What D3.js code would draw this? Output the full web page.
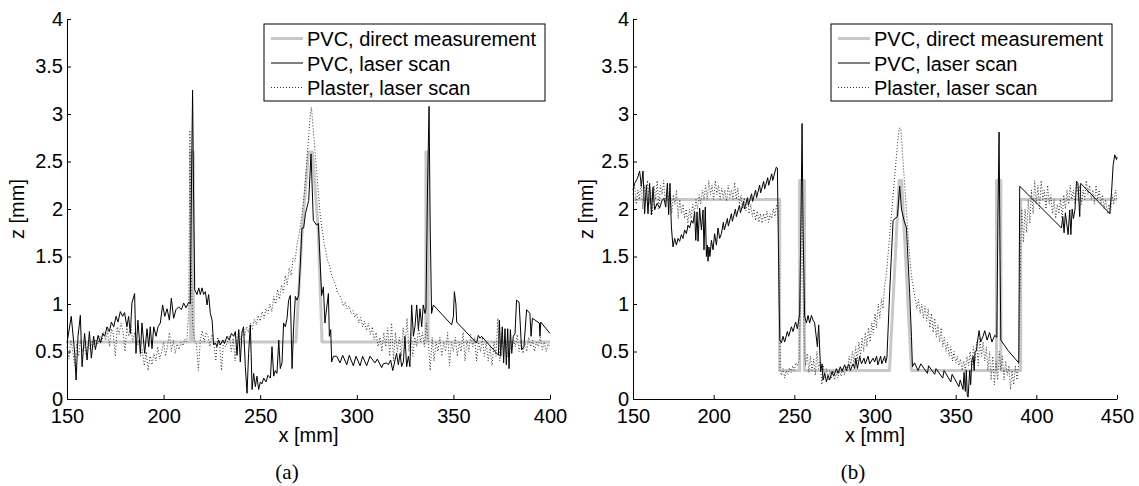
<!DOCTYPE html>
<html>
<head>
<meta charset="utf-8">
<title>Profile comparison</title>
<script src="https://d3js.org/d3.v7.min.js"></script>
<style>
  body { margin: 0; background: #fff; }
  svg { display: block; }
  text { font-family: "Liberation Sans", Arial, Helvetica, sans-serif; fill: #000; }
  .caption { font-family: "Liberation Serif", "Times New Roman", serif; }
</style>
</head>
<body>
<div id="vis"></div>
<script>
// legend / series names
const seriesNames = ["PVC, direct measurement", "PVC, laser scan", "Plaster, laser scan"];
const yTicks = [0, 0.5, 1, 1.5, 2, 2.5, 3, 3.5, 4];
const xTicksA = [150, 200, 250, 300, 350, 400];
const xTicksB = [150, 200, 250, 300, 350, 400, 450];

// panel (a): [x mm, z mm]
const directA = [[150,0.6],[214,0.6],[214,2.6],[215.4,2.6],[215.4,0.6],[268.5,0.6],[271.8,1.8],[275,2.6],[277,2.6],[280,1.8],[282,0.6],
  [335.8,0.6],[335.8,2.6],[336.9,2.6],[336.9,0.6],[400,0.6]];

const pvcScanA = [[150,0.59],[152.2,0.87],[154,0.48],[154.7,0.20],[155.7,0.66],[156.9,0.88],[157.8,0.34],[159.1,0.69],[160.4,0.41],
  [161.6,0.71],[162.6,0.43],[163.8,0.66],[164.7,0.52],[166.1,0.67],[167.3,0.59],[168.5,0.69],[169.5,0.66],[170.7,0.76],[171.9,0.71],
  [173,0.81],[174.2,0.76],[175.4,0.87],[176.4,0.81],[177.6,0.92],[178.8,0.87],[179.8,0.91],[181,0.76],[181.9,0.87],[182.8,0.69],
  [183.6,1.01],[185,1.11],[185.7,0.48],[186.7,0.83],[188,0.48],[188.8,0.80],[190.2,0.48],[191.4,0.74],[192.3,0.55],[193.1,0.76],
  [194,0.53],[194.9,0.76],[196.1,0.66],[197.1,0.76],[198.3,0.80],[199.5,0.99],[200.6,0.87],[201.8,0.95],[203,0.83],[204,1.06],
  [205.2,0.85],[206.4,0.94],[207.8,0.97],[209.2,0.94],[210.4,1.01],[211.6,0.96],[213,1.02],[213.8,1.0],[214.5,2.4],[215,3.25],
  [215.5,2.2],[216.1,1.15],[217.3,1.10],[218.2,1.17],[219,1.10],[219.9,1.17],[220.7,1.10],[221.6,1.13],[222.5,0.99],[223.3,1.10],
  [224.2,0.90],[225.1,0.83],[225.9,0.57],[226.8,0.59],[227.6,0.55],[228.5,0.62],[229.4,0.57],[230.6,0.62],[231.6,0.59],[232.8,0.66],
  [234,0.62],[235.1,0.69],[236.3,0.66],[237.1,0.71],[238,0.46],[238.9,0.73],[239.7,0.39],[240.6,0.71],[241.4,0.76],[242.3,0.34],
  [243.2,0.06],[244,0.48],[244.9,0.78],[245.8,0.10],[246.6,0.27],[247.5,0.13],[248.3,0.24],[249.2,0.10],[250.1,0.18],[250.9,0.16],
  [251.8,0.22],[253,0.18],[254,0.25],[255.3,0.22],[256.1,0.55],[257,0.24],[257.8,0.30],[258.7,0.27],[259.6,0.62],[260.4,0.32],
  [261.3,0.38],[262.1,0.80],[263,0.76],[263.9,0.85],[264.7,1.04],[265.6,1.09],[266.5,0.32],[267.3,0.76],[268.2,1.08],[269,1.04],
  [269.9,1.09],[270.8,1.43],[271.6,1.80],[272.5,1.80],[273.4,1.95],[275.1,2.09],[276.3,2.58],[277.5,1.88],[279.2,1.83],[280.1,1.85],
  [281.8,1.09],[282.7,1.18],[283.5,0.80],[285.3,1.11],[285.8,0.66],[286.5,0.73],[287,0.39],[287.9,0.45],[289.6,0.45],[291.3,0.38],
  [292.7,0.46],[294.8,0.36],[296.1,0.46],[298.2,0.35],[299.6,0.45],[301.7,0.35],[303,0.45],[305.1,0.35],[306.8,0.45],[309.4,0.38],
  [310.6,0.42],[312.9,0.33],[313.7,0.37],[315.5,0.38],[316.3,0.36],[317.5,0.41],[318.6,0.30],[319.8,0.41],[320.6,0.48],[321.5,0.36],
  [322.4,0.48],[323.2,0.34],[324.1,0.39],[324.9,0.66],[325.8,0.34],[326.7,0.45],[327.5,0.34],[328.4,0.99],[329.3,0.66],[330.1,0.76],
  [331,0.99],[331.9,0.73],[332.7,0.95],[333.6,0.76],[334.4,0.99],[335.3,0.90],[335.8,0.95],[336.6,2.2],[337.4,3.08],[338,1.8],
  [338.7,0.90],[339.6,0.99],[349.1,0.78],[350,0.87],[350.5,1.13],[351.3,1.0],[351.7,0.81],[362,0.59],[362.9,0.67],[363.8,0.64],
  [364.6,0.66],[373.3,0.46],[373.8,0.83],[374.5,0.45],[375.3,0.76],[376,0.38],[376.7,0.74],[377.4,0.36],[378.1,0.74],[378.8,0.32],
  [379.5,0.73],[380.2,0.48],[381,0.66],[381.9,0.69],[382.7,1.04],[384,1.02],[385.3,0.52],[386.5,0.55],[387.9,0.94],[389.6,0.90],
  [390.2,0.66],[390.9,0.85],[394.5,0.80],[394.8,0.66],[395.2,0.81],[400,0.69]];

const plasterA = [[150,0.55],[151,0.42],[152,0.62],[153,0.50],[154,0.35],[155,0.58],[156,0.45],[157,0.62],[158,0.50],[159,0.57],
  [160,0.45],[161,0.60],[162,0.52],[163,0.62],[164,0.55],[165,0.63],[166,0.58],[167,0.66],[168,0.60],[169,0.70],[170,0.62],[171,0.72],
  [172,0.55],[173,0.74],[174,0.68],[175,0.45],[176,0.76],[177,0.68],[178,0.80],[179,0.72],[180,0.50],[181,0.75],[182,0.66],[183,0.78],
  [184,0.60],[185,0.70],[186,0.55],[187,0.62],[188,0.45],[189,0.52],[190,0.35],[191,0.50],[192,0.30],[193,0.45],[194,0.36],[195,0.48],
  [196,0.40],[197,0.55],[198,0.42],[199,0.50],[200,0.60],[201,0.45],[202,0.55],[203,0.70],[204,0.50],[205,0.62],[206,0.48],[207,0.58],
  [208,0.52],[209,0.60],[210,0.56],[211,0.63],[212,0.60],[213,0.9],[213.6,2.83],[214.2,1.5],[215,0.8],[216,0.62],[217,0.58],[218,0.30],
  [219,0.62],[220,0.72],[221,0.60],[222,0.70],[223,0.66],[224,0.55],[225,0.68],[226,0.60],[227,0.40],[228,0.65],[229,0.58],[230,0.30],
  [231,0.62],[232,0.55],[233,0.60],[234,0.66],[235,0.50],[236,0.64],[237,0.40],[238,0.65],[239,0.70],[240,0.62],[241,0.72],[242,0.66],
  [243,0.76],[244,0.70],[245,0.80],[246,0.74],[247,0.84],[248,0.78],[249,0.88],[250,0.82],[251,0.92],[252,0.85],[253,0.95],[254,0.90],
  [255,1.00],[256,0.92],[257,1.08],[258,1.00],[259,1.15],[260,1.05],[261,1.20],[262,1.12],[263,1.30],[264,1.20],[265,1.38],[266,1.30],
  [267,1.48],[268,1.45],[269,1.62],[270,1.72],[271,1.85],[272,2.00],[273,2.20],[274,2.45],[275,2.75],[276,3.00],[276.5,3.07],[277,2.95],
  [278,2.70],[279,2.45],[280,2.20],[281,1.95],[282,1.80],[283,1.65],[284,1.55],[285,1.45],[286,1.40],[287,1.30],[288,1.25],[289,1.20],
  [290,1.12],[291,1.10],[292,1.05],[293,0.98],[294,1.02],[295,0.95],[296,0.98],[297,0.90],[298,0.93],[299,0.86],[300,0.90],[301,0.80],
  [302,0.86],[303,0.76],[304,0.82],[305,0.72],[306,0.80],[307,0.68],[308,0.76],[309,0.62],[310,0.70],[311,0.55],[312,0.65],[313,0.50],
  [314,0.70],[315,0.55],[316,0.75],[317,0.45],[318,0.80],[319,0.40],[320,0.70],[321,0.50],[322,0.65],[323,0.45],[324,0.75],[325,0.55],
  [326,0.85],[327,0.50],[328,0.70],[329,0.45],[330,0.65],[331,0.55],[332,0.75],[333,0.60],[334,0.70],[335,0.55],[336,0.80],[337,0.60],
  [338,0.30],[339,0.65],[340,0.40],[341,0.60],[342,0.50],[343,0.65],[344,0.45],[345,0.60],[346,0.50],[347,0.70],[348,0.35],[349,0.60],
  [350,0.50],[351,0.65],[352,0.45],[353,0.60],[354,0.50],[355,0.70],[356,0.40],[357,0.62],[358,0.50],[359,0.68],[360,0.55],[361,0.65],
  [362,0.40],[363,0.60],[364,0.50],[365,0.65],[366,0.45],[367,0.60],[368,0.40],[369,0.55],[370,0.35],[371,0.60],[372,0.45],[373,0.85],
  [374,0.40],[375,0.70],[376,0.50],[377,0.65],[378,0.45],[379,0.60],[380,0.50],[381,0.62],[382,0.55],[383,0.68],[384,0.50],[385,0.62],
  [386,0.48],[387,0.60],[388,0.50],[389,0.65],[390,0.55],[391,0.62],[392,0.50],[393,0.60],[394,0.55],[395,0.65],[396,0.52],[397,0.60],
  [398,0.50],[399,0.58],[400,0.55]];

// panel (b)
const directB = [[150,2.1],[240.9,2.1],[240.9,0.3],[253.3,0.3],[253.3,2.3],[256.3,2.3],[256.3,0.3],[309,0.3],[315,2.3],[316.5,2.3],
  [322.6,0.3],[375.3,0.3],[375.3,2.3],[378,2.3],[378,0.3],[390.3,0.3],[390.3,2.1],[450,2.1]];

const pvcScanB = [[150,2.2],[151,2.27],[152.7,2.32],[154.1,2.40],[155.2,2.24],[156.2,2.40],[157.2,1.95],[158.3,2.25],[159.3,1.95],
  [160.3,2.27],[161.4,1.94],[162.4,2.23],[163.4,1.99],[164.9,2.06],[166.5,2.01],[168,2.09],[169.2,2.11],[170.3,2.02],[171.3,2.27],
  [172.1,1.94],[172.9,2.27],[173.8,1.81],[174.8,1.60],[175.8,1.69],[176.9,1.62],[177.9,1.69],[178.9,1.66],[180,1.73],[181,1.69],
  [182,1.78],[183.1,1.74],[184.1,1.83],[185.1,1.80],[186.2,1.88],[187.2,1.85],[188.2,1.97],[188.9,1.67],[189.7,1.97],[190.3,1.66],
  [191.3,2.01],[192.4,1.78],[193.4,1.99],[194,1.57],[194.8,2.02],[195.5,1.50],[196.1,1.62],[196.5,1.45],[197.1,1.60],[197.7,1.50],
  [198.6,1.67],[199.6,1.57],[200.6,1.74],[201.7,1.62],[202.7,1.80],[203.7,1.69],[204.8,1.74],[206,1.86],[206.6,1.78],[208.5,1.90],
  [209.1,1.82],[211,1.95],[211.6,1.87],[213.5,2.00],[214.1,1.92],[216,2.04],[216.6,1.96],[218.5,2.08],[219.1,2.00],[221,2.12],
  [221.6,2.04],[223.5,2.16],[224.1,2.08],[226,2.20],[226.6,2.12],[228.5,2.25],[229.1,2.17],[231,2.29],[231.6,2.21],[233.5,2.33],
  [234.1,2.25],[236,2.37],[236.6,2.30],[238.8,2.44],[239.5,2.43],[240.6,1.0],[241,0.62],[242,0.59],[243,0.66],[244,0.60],
  [245.7,0.71],[246.5,0.66],[248.2,0.76],[249.2,0.71],[250.8,0.81],[251.9,0.74],[253.3,0.90],[254.2,2.0],[254.8,2.9],[255.4,1.8],
  [256.4,0.87],[257.5,0.80],[258.5,0.88],[259.5,0.80],[260.6,0.88],[261.6,0.83],[262.6,0.80],[264.3,0.55],[265.1,0.78],[266.3,0.29],
  [267.2,0.37],[267.8,0.20],[268.8,0.27],[269.9,0.18],[270.9,0.25],[271.9,0.20],[273.4,0.29],[274.4,0.24],[276.1,0.32],[277.1,0.27],
  [278.5,0.34],[279.6,0.29],[281.2,0.36],[282.3,0.30],[283.7,0.37],[284.7,0.30],[286.4,0.37],[287.4,0.32],[288.1,0.43],[289.1,0.32],
  [290.5,0.45],[291.6,0.37],[293.2,0.43],[294,0.37],[295.7,0.45],[296.7,0.37],[298.8,0.43],[299.8,0.39],[301,0.45],[301.8,0.36],
  [303.5,0.45],[304.2,0.37],[306,0.45],[306.6,0.38],[307.4,0.44],[309.1,1.13],[311.2,1.88],[313.9,1.92],[315.3,2.24],[316.4,2.0],
  [318,1.88],[319.5,1.80],[321.5,1.11],[322.6,0.66],[323.2,0.34],[324.5,0.38],[326.7,0.30],[328.4,0.37],[332.5,0.27],[333.2,0.35],
  [337,0.26],[337.8,0.32],[342,0.22],[342.8,0.30],[347,0.18],[347.8,0.26],[352,0.13],[352.8,0.20],[354.6,0.10],[355.2,0.28],
  [356,0.08],[356.6,0.30],[357.2,0.04],[357.7,0.02],[358.7,0.30],[359.3,0.15],[360,0.40],[360.8,0.45],[361.5,0.30],[362,0.50],
  [362.9,0.51],[363.5,0.60],[364.5,0.72],[365.5,0.60],[367,0.66],[368,0.72],[369.5,0.62],[371,0.70],[372.5,0.60],[374.2,0.67],
  [375.5,0.65],[376.2,1.9],[376.9,2.81],[377.5,1.5],[378,0.62],[382.5,0.51],[389.1,0.38],[389.7,2.24],[415.6,1.80],[416.4,1.92],
  [417.2,1.75],[418,1.96],[419.7,1.73],[420.7,1.99],[421.4,1.73],[422.2,2.00],[423,1.90],[424,2.00],[424.9,2.29],[425.8,2.27],
  [426.9,1.92],[427.5,2.27],[444.5,1.97],[445.5,1.95],[446.6,2.17],[447.6,2.46],[448.6,2.57],[449.7,2.52],[450,2.55]];

const plasterB = [[150,2.15],[151,2.25],[152,2.05],[153,2.2],[154,2.1],[155,2.3],[156,2.0],[157,2.25],[158,2.1],[159,2.3],[160,2.05],
  [161,2.2],[162,1.95],[163,2.25],[164,2.1],[165,2.3],[166,2.0],[167,2.25],[168,2.15],[169,2.3],[170,2.05],[171,2.2],[172,2.1],
  [173,2.25],[174,1.95],[175,2.15],[176,2.05],[177,2.2],[178,1.9],[179,2.1],[180,1.95],[181,2.05],[182,1.9],[183,2.0],[184,1.85],
  [185,2.0],[186,1.9],[187,2.05],[188,1.95],[189,2.1],[190,2.0],[191,2.15],[192,2.05],[193,2.2],[194,2.1],[195,2.25],[196,2.1],
  [197,2.3],[198,2.15],[199,2.25],[200,2.1],[201,2.3],[202,2.15],[203,2.25],[204,2.1],[205,2.22],[206,2.12],[207,2.2],[208,2.08],
  [209,2.25],[210,2.12],[211,2.2],[212,2.1],[213,2.28],[214,2.1],[215,2.22],[216,2.05],[217,2.15],[218,2.0],[219,2.12],[220,1.98],
  [221,2.1],[222,1.95],[223,2.05],[224,1.92],[225,2.0],[226,1.88],[227,1.98],[228,1.86],[229,1.95],[230,1.85],[231,1.95],[232,1.88],
  [233,1.98],[234,1.86],[235,1.95],[236,1.9],[237,2.0],[238,1.92],[239,2.05],[240,1.95],[240.8,1.0],[241.2,0.3],[242,0.25],[243,0.32],
  [244,0.22],[245,0.30],[246,0.26],[247,0.33],[248,0.28],[249,0.35],[250,0.30],[251,0.38],[252,0.35],[253,0.42],[254,1.2],[254.7,2.3],
  [255.5,1.0],[256.5,0.45],[257,0.35],[258,0.48],[259,0.28],[260,0.45],[261,0.30],[262,0.42],[263,0.25],[264,0.50],[265,0.32],
  [266,0.40],[267,0.15],[268,0.35],[269,0.22],[270,0.32],[271,0.2],[272,0.3],[273,0.22],[274,0.3],[275,0.2],[276,0.28],[277,0.22],
  [278,0.3],[279,0.24],[280,0.33],[281,0.25],[282,0.35],[283,0.3],[284,0.45],[285,0.35],[286,0.5],[287,0.38],[288,0.55],[289,0.4],
  [290,0.6],[291,0.45],[292,0.65],[293,0.5],[294,0.7],[295,0.55],[296,0.75],[297,0.6],[298,0.8],[299,0.7],[300,0.9],[301,0.75],
  [302,1.0],[303,0.85],[304,1.05],[305,0.95],[306,1.2],[307,1.3],[308,1.5],[309,1.7],[310,1.9],[311,2.1],[312,2.3],[313,2.5],
  [314,2.7],[315,2.85],[316,2.85],[317,2.6],[318,2.35],[319,2.1],[320,1.85],[321,1.6],[322,1.4],[323,1.25],[324,1.15],[325,1.05],
  [326,0.95],[327,1.05],[328,0.9],[329,1.0],[330,0.85],[331,0.98],[332,0.82],[333,0.95],[334,0.75],[335,0.9],[336,0.7],[337,0.85],
  [338,0.65],[339,0.78],[340,0.6],[341,0.75],[342,0.55],[343,0.65],[344,0.5],[345,0.6],[346,0.45],[347,0.55],[348,0.4],[349,0.5],
  [350,0.38],[351,0.45],[352,0.35],[353,0.42],[354,0.3],[355,0.4],[356,0.3],[357,0.45],[358,0.35],[359,0.5],[360,0.3],[361,0.55],
  [362,0.4],[363,0.6],[364,0.35],[365,0.65],[366,0.45],[367,0.6],[368,0.4],[369,0.55],[370,0.3],[371,0.5],[372,0.2],[373,0.45],
  [374,0.15],[375,0.4],[376,0.2],[377,0.5],[378,0.3],[379,0.45],[380,0.2],[381,0.4],[382,0.25],[383,0.35],[384,0.1],[385,0.3],
  [386,0.15],[387,0.35],[388,0.2],[389,0.35],[390,1.2],[390.5,1.8],[391,2.0],[392,1.65],[393,2.0],[394,1.75],[395,2.1],[396,1.85],
  [397,2.2],[398,1.95],[399,2.3],[400,2.05],[401,2.25],[402,2.0],[403,2.3],[404,2.1],[405,2.2],[406,2.0],[407,2.25],[408,2.05],
  [409,2.15],[410,1.95],[411,2.1],[412,1.9],[413,2.05],[414,1.95],[415,2.1],[416,1.9],[417,2.15],[418,2.0],[419,2.2],[420,2.05],
  [421,2.25],[422,2.1],[423,2.2],[424,2.05],[425,2.3],[426,2.1],[427,2.25],[428,2.05],[429,2.2],[430,2.1],[431,2.3],[432,2.15],
  [433,2.25],[434,2.1],[435,2.2],[436,2.05],[437,2.25],[438,2.1],[439,2.2],[440,2.05],[441,2.15],[442,2.0],[443,2.1],[444,1.95],
  [445,2.05],[446,1.95],[447,2.15],[448,2.05],[449,2.2],[450,2.1]];

let w = 1139, h = 486;
let svg = d3.select("#vis").append("svg")
            .attr("width", w)
            .attr("height", h);

// line styles for the 3 series
const styles = [
  {stroke: "#c8c8c8", width: 3, dash: null},
  {stroke: "#000", width: 1, dash: null},
  {stroke: "#333", width: 1, dash: "1,2"}
];

function drawPanel(p) {
  let x = d3.scaleLinear().domain([150, p.xmax]).range([p.left, p.right]);
  let y = d3.scaleLinear().domain([0, 4]).range([399, 19]);
  let g = svg.append("g");

  let line = d3.line()
    .x(function(d) { return x(d[0]); })
    .y(function(d) { return y(d[1]); });

  p.series.forEach(function(s, i) {
    g.append("path")
      .datum(s)
      .attr("d", line)
      .attr("fill", "none")
      .attr("stroke", styles[i].stroke)
      .attr("stroke-width", styles[i].width)
      .attr("stroke-dasharray", styles[i].dash)
      .attr("stroke-linejoin", "round");
  });

  // axes, ticks point inward like matlab
  let xAxis = g.append("g")
    .attr("transform", "translate(0,399)")
    .call(d3.axisBottom(x).tickValues(p.xticks).tickSizeInner(-4).tickSizeOuter(0).tickPadding(10).tickFormat(d3.format("d")));
  let yAxis = g.append("g")
    .attr("transform", "translate(" + p.left + ",0)")
    .call(d3.axisLeft(y).tickValues(yTicks).tickSizeInner(-4).tickSizeOuter(0).tickPadding(4).tickFormat(function(d) { return String(d); }));
  [xAxis, yAxis].forEach(function(a) {
    a.selectAll("text").style("font-size", "20px").attr("font-family", null);
    a.selectAll("path, line").attr("stroke", "#000");
  });

  g.append("text").attr("x", (p.left + p.right) / 2).attr("y", 442)
    .attr("text-anchor", "middle").style("font-size", "20px").text("x [mm]");
  g.append("text").attr("transform", "translate(" + p.zlab + ",209) rotate(-90)")
    .attr("text-anchor", "middle").style("font-size", "20px").text("z [mm]");
  g.append("text").attr("class", "caption").attr("x", p.cap).attr("y", 479)
    .attr("text-anchor", "middle").style("font-size", "21px").text(p.label);

  // legend
  let lg = g.append("g").attr("transform", "translate(" + p.legX + ",24)");
  lg.append("rect").attr("width", 281).attr("height", 77)
    .attr("fill", "#fff").attr("stroke", "#000").attr("stroke-width", 1);
  seriesNames.forEach(function(name, i) {
    let ry = 14.5 + i * 24.5;
    lg.append("line").attr("x1", 7).attr("x2", 39).attr("y1", ry).attr("y2", ry)
      .attr("stroke", styles[i].stroke).attr("stroke-width", styles[i].width)
      .attr("stroke-dasharray", styles[i].dash);
    lg.append("text").attr("x", 43).attr("y", ry + 7.5).style("font-size", "20px").text(name);
  });
}

drawPanel({left: 67, right: 550, xmax: 400, xticks: xTicksA, series: [directA, pvcScanA, plasterA],
           legX: 264, zlab: 24, cap: 287, label: "(a)"});
drawPanel({left: 633, right: 1117, xmax: 450, xticks: xTicksB, series: [directB, pvcScanB, plasterB],
           legX: 831, zlab: 593, cap: 853, label: "(b)"});
</script>
</body>
</html>
